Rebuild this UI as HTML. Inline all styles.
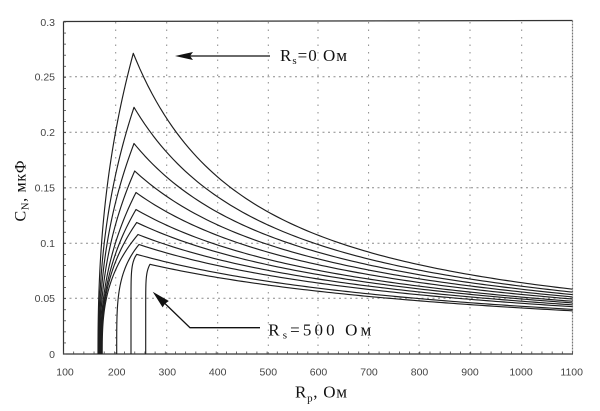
<!DOCTYPE html>
<html>
<head>
<meta charset="utf-8">
<style>
  html,body{margin:0;padding:0;background:#fff;}
  svg{display:block;}
</style>
</head>
<body>
<svg id="chart" xmlns="http://www.w3.org/2000/svg" width="600" height="411" viewBox="0 0 600 411">
  <rect x="0" y="0" width="600" height="411" fill="#ffffff"/>

  <!-- horizontal gridlines -->
  <g stroke="#8a8a8a" stroke-width="1" stroke-dasharray="2 3.5" fill="none">
    <line x1="64" y1="298.3" x2="572" y2="298.3"/>
    <line x1="64" y1="243.3" x2="572" y2="243.3"/>
    <line x1="64" y1="187.7" x2="572" y2="187.7"/>
    <line x1="64" y1="132.3" x2="572" y2="132.3"/>
    <line x1="64" y1="76.7" x2="572" y2="76.7"/>
  </g>
  <!-- vertical gridlines -->
  <g stroke="#8a8a8a" stroke-width="1" stroke-dasharray="1.5 6" fill="none">
    <line x1="115.7" y1="22" x2="115.7" y2="354"/>
    <line x1="166.7" y1="22" x2="166.7" y2="354"/>
    <line x1="217.7" y1="22" x2="217.7" y2="354"/>
    <line x1="268.3" y1="22" x2="268.3" y2="354"/>
    <line x1="318" y1="22" x2="318" y2="354"/>
    <line x1="368.6" y1="22" x2="368.6" y2="354"/>
    <line x1="419" y1="22" x2="419" y2="354"/>
    <line x1="470" y1="22" x2="470" y2="354"/>
    <line x1="521.7" y1="22" x2="521.7" y2="354"/>
  </g>

  <!-- frame -->
  <line x1="63.5" y1="21.5" x2="572.5" y2="20.5" stroke="#333" stroke-width="1.2"/>
  <line x1="572.5" y1="20.5" x2="572.5" y2="354" stroke="#777" stroke-width="1.2" stroke-dasharray="2 1"/>
  <line x1="63.5" y1="21.5" x2="63.5" y2="354.5" stroke="#333" stroke-width="1.2"/>
  <line x1="63" y1="354" x2="573" y2="354" stroke="#333" stroke-width="1.2"/>
  <g id="ticks" stroke="#444" stroke-width="0.8"></g>

  <!-- curves -->
  <g id="curves" fill="none" stroke="#1e1e1e" stroke-width="1.15" stroke-linejoin="round"></g>

  <!-- y tick labels -->
  <g font-family="Liberation Sans, Arial, sans-serif" font-size="10.5" fill="#444" text-anchor="end">
    <text x="55" y="25.8">0.3</text>
    <text x="55" y="80.5">0.25</text>
    <text x="55" y="136.1">0.2</text>
    <text x="55" y="191.5">0.15</text>
    <text x="55" y="247.1">0.1</text>
    <text x="55" y="302.1">0.05</text>
    <text x="55" y="357.8">0</text>
  </g>
  <!-- x tick labels -->
  <g font-family="Liberation Sans, Arial, sans-serif" font-size="10.5" fill="#444" text-anchor="middle">
    <text x="65" y="375.5">100</text>
    <text x="116.7" y="375.5">200</text>
    <text x="167.3" y="375.5">300</text>
    <text x="217.7" y="375.5">400</text>
    <text x="268.3" y="375.5">500</text>
    <text x="318.5" y="375.5">600</text>
    <text x="369" y="375.5">700</text>
    <text x="419.5" y="375.5">800</text>
    <text x="470" y="375.5">900</text>
    <text x="521" y="375.5">1000</text>
    <text x="571.7" y="375.5">1100</text>
  </g>

  <!-- axis titles -->
  <text x="295" y="397.5" font-family="Liberation Serif, Times New Roman, serif" font-size="17" fill="#111" textLength="52" lengthAdjust="spacing">R<tspan font-size="11" dy="4">p</tspan><tspan dy="-4">, Ом</tspan></text>
  <text transform="translate(25.5,191) rotate(-90)" text-anchor="middle" font-family="Liberation Serif, Times New Roman, serif" font-size="16" fill="#111" textLength="61" lengthAdjust="spacing">C<tspan font-size="10.5" dy="3">N</tspan><tspan dy="-3">, мкФ</tspan></text>

  <!-- annotation top -->
  <line x1="190" y1="56" x2="270" y2="56" stroke="#111" stroke-width="1.3"/>
  <polygon points="175,56 193,52 190,56 193,60" fill="#111"/>
  <text x="280" y="61" font-family="Liberation Serif, Times New Roman, serif" font-size="17" fill="#111" textLength="67" lengthAdjust="spacing">R<tspan font-size="11" dy="3">s</tspan><tspan dy="-3">=0 Ом</tspan></text>

  <!-- annotation bottom -->
  <polyline points="163,301.6 190,327.7 260,327.7" fill="none" stroke="#111" stroke-width="1.3"/>
  <polygon points="152.7,291.7 168.8,301 165,303.8 162.6,307.4" fill="#111"/>
  <text x="268.3" y="335.5" font-family="Liberation Serif, Times New Roman, serif" font-size="17" fill="#111" textLength="103" lengthAdjust="spacing">R<tspan font-size="11" dy="3">s</tspan><tspan dy="-3">=500 Ом</tspan></text>
</svg>

<script>
(function(){
  var NS = "http://www.w3.org/2000/svg";
  function Rinv(x){ return 100 + (x - 63.5) / 0.509; }
  function X(R){ return 63.5 + (R - 100) * 0.509; }
  function Y(v){ return 354 - v * 1106.67; }

  var curves = [
    {rs:0,   x0:98,    xp:133.3, yp:53.3,  p:2.3},
    {rs:50,  x0:98.6,  xp:134,   yp:107.3, p:2.3},
    {rs:100, x0:99.2,  xp:134,   yp:143.5, p:2.3},
    {rs:150, x0:99.8,  xp:134.7, yp:171,   p:2.3},
    {rs:200, x0:100.4, xp:136,   yp:192.5, p:2.3},
    {rs:250, x0:101,   xp:136,   yp:209.5, p:2.4},
    {rs:300, x0:101.6, xp:136.7, yp:222.5, p:2.6},
    {rs:350, x0:102.2, xp:138,   yp:234.5, p:2.8},
    {rs:400, x0:116.7, xp:139,   yp:244.5, p:4},
    {rs:450, x0:131,   xp:136.7, yp:254.3, p:12},
    {rs:500, x0:145.7, xp:150,   yp:264.3, p:12}
  ];

  var g = document.getElementById("curves");
  curves.forEach(function(c){
    var pts = [];
    var N = 40;
    for (var i = 0; i <= N; i++){
      var t = i / N;
      var y = 354 - t * (354 - c.yp);
      var x = c.x0 + (c.xp - c.x0) * Math.pow(t, c.p);
      pts.push(x.toFixed(2) + "," + y.toFixed(2));
    }
    var Rp = Rinv(c.xp);
    var Vp = (354 - c.yp) / 1106.67;
    var K = Vp * (Rp + c.rs);
    for (var R = Rp + 5; R <= 1100; R += 8){
      pts.push(X(R).toFixed(2) + "," + Y(K / (R + c.rs)).toFixed(2));
    }
    pts.push(X(1100).toFixed(2) + "," + Y(K / (1100 + c.rs)).toFixed(2));
    var pl = document.createElementNS(NS, "polyline");
    pl.setAttribute("points", pts.join(" "));
    g.appendChild(pl);
  });

  // minor ticks
  var tg = document.getElementById("ticks");
  function ln(x1,y1,x2,y2){
    var l = document.createElementNS(NS, "line");
    l.setAttribute("x1",x1); l.setAttribute("y1",y1);
    l.setAttribute("x2",x2); l.setAttribute("y2",y2);
    tg.appendChild(l);
  }
  for (var v = 0; v <= 0.3001; v += 0.01){
    var y = Y(v);
    ln(63.5, y, 66, y);
  }
  for (var R = 100; R <= 1100; R += 20){
    var x = X(R);
    ln(x, 354, x, 351.5);
  }
})();
</script>
</body>
</html>
